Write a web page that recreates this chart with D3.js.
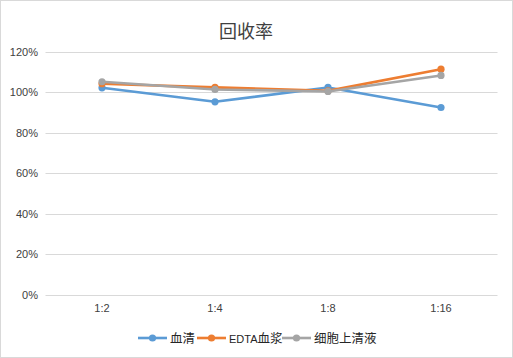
<!DOCTYPE html>
<html><head><meta charset="utf-8">
<script src="https://cdn.jsdelivr.net/npm/d3@7"></script>
<style>body{margin:0;background:#fff}svg{display:block}</style>
</head><body>
<svg id="c" width="513" height="358"></svg>
<script>
const categories = ["1:2","1:4","1:8","1:16"];
const seriesNames = ["血清","EDTA血浆","细胞上清液"];
const serum = [102.1, 95.2, 102.3, 92.4];
const edta = [104.1, 102.3, 100.6, 111.3];
const supernatant = [105.1, 101.3, 100.3, 108.2];
const yTicks = [0,20,40,60,80,100,120];
const colors = ["#5B9BD5","#ED7D31","#A5A5A5"];
const series = [serum, edta, supernatant];

const svg = d3.select("#c");
const font = "'Liberation Sans','Noto Sans CJK SC',sans-serif";
svg.append("rect").attr("x",0.5).attr("y",0.5).attr("width",512).attr("height",357)
  .attr("fill","#fff").attr("stroke","#d9d9d9");

const x = d3.scaleBand().domain(categories).range([45.5,497.5]);
const y = d3.scaleLinear().domain([0,120]).range([295,51.5]);

const g = svg.append("g");
g.selectAll("line.grid").data(yTicks).join("line")
  .attr("x1",45.5).attr("x2",497.5)
  .attr("y1",d=>Math.round(y(d))+0.5).attr("y2",d=>Math.round(y(d))+0.5)
  .attr("stroke","#d9d9d9").attr("stroke-width",1);

g.selectAll("text.yl").data(yTicks).join("text")
  .attr("x",38).attr("y",d=>y(d)+4).attr("text-anchor","end")
  .attr("font-family",font).attr("font-size",11).attr("fill","#404040")
  .text(d=>d+"%");

g.selectAll("text.xl").data(categories).join("text")
  .attr("x",d=>x(d)+x.bandwidth()/2).attr("y",312).attr("text-anchor","middle")
  .attr("font-family",font).attr("font-size",11).attr("fill","#404040")
  .text(d=>d);

const line = d3.line().x((d,i)=>x(categories[i])+x.bandwidth()/2).y(d=>y(d));
series.forEach((s,k)=>{
  g.append("path").attr("d",line(s)).attr("fill","none")
    .attr("stroke",colors[k]).attr("stroke-width",2.6).attr("stroke-linejoin","round").attr("stroke-linecap","round");
  g.selectAll(null).data(s).join("circle")
    .attr("cx",(d,i)=>x(categories[i])+x.bandwidth()/2).attr("cy",d=>y(d)).attr("r",3.6)
    .attr("fill",colors[k]);
});

svg.append("text").attr("x",246).attr("y",38).attr("text-anchor","middle")
  .attr("font-family","'Noto Sans CJK SC',sans-serif").attr("font-size",18).attr("fill","#404040")
  .text("回收率");

const legX = [138, 197, 282];
const lg = svg.append("g");
seriesNames.forEach((n,k)=>{
  const lx = legX[k];
  lg.append("line").attr("x1",lx).attr("x2",lx+29).attr("y1",338).attr("y2",338)
    .attr("stroke",colors[k]).attr("stroke-width",2.6);
  lg.append("circle").attr("cx",lx+14.5).attr("cy",338).attr("r",3.6).attr("fill",colors[k]);
  const t = lg.append("text").attr("x",lx+32).attr("y",343).attr("font-family",font)
    .attr("font-size",12.5).attr("fill","#262626");
  const m = n.match(/^([A-Za-z]*)(.*)$/);
  if (m[1]) t.append("tspan").attr("font-size",11).text(m[1]);
  t.append("tspan").text(m[2]);
});
</script>
</body></html>
